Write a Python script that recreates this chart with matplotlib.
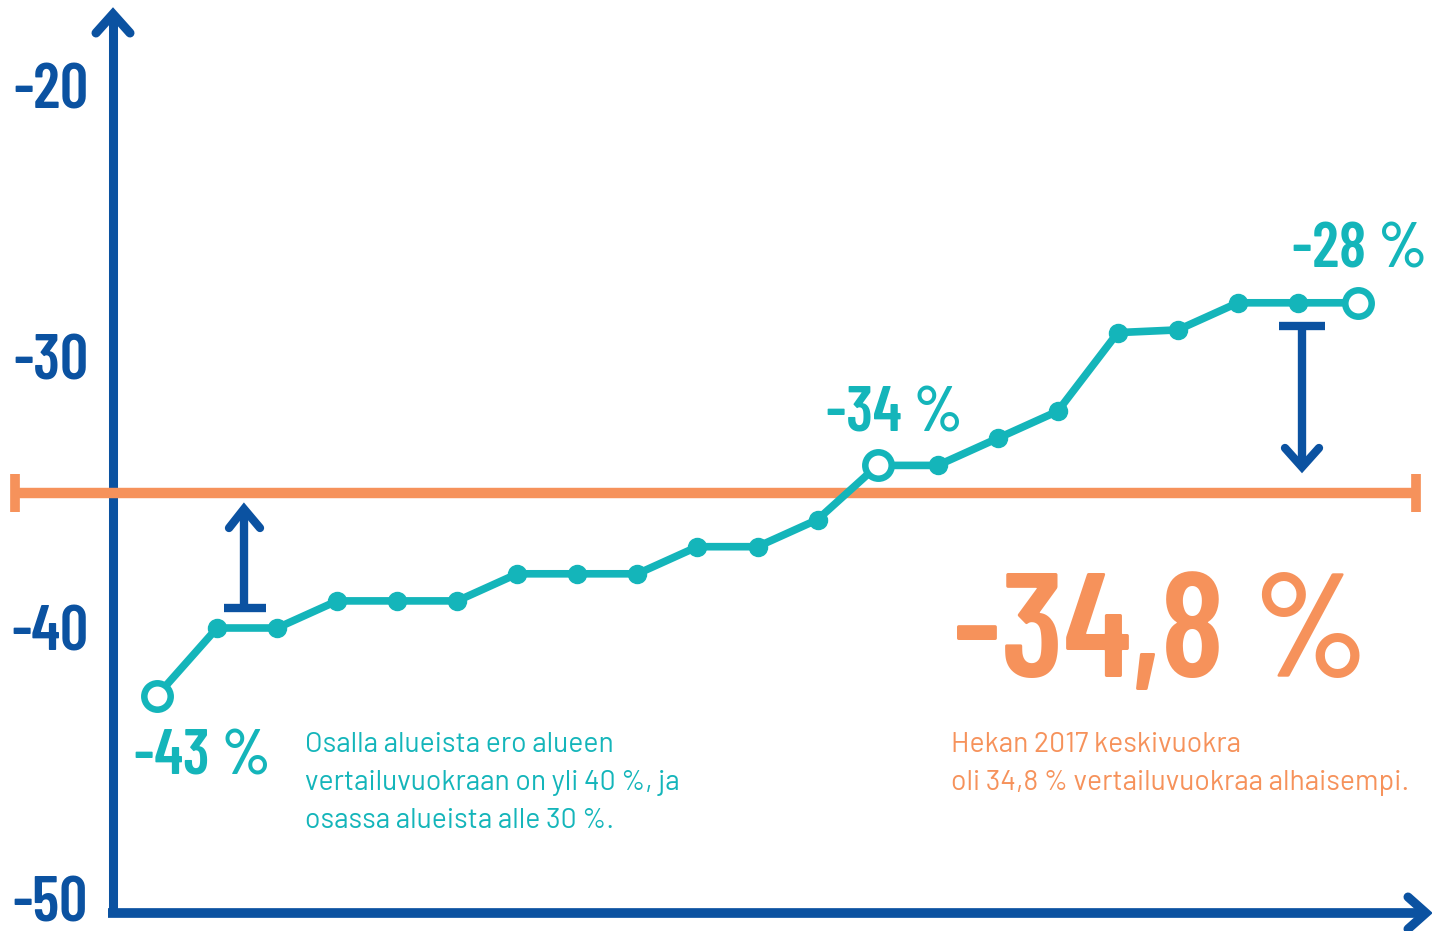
import matplotlib
matplotlib.use("Agg")
import matplotlib.pyplot as plt

# ---------------- data ----------------
positions = list(range(1, 22))
values = [-42.5, -40, -40, -39, -39, -39, -38, -38, -38, -37, -37, -36,
          -34, -34, -33, -32, -29.1, -29, -28, -28, -28]
reference_value = -35.0
reference_label = "-34,8 %"
y_ticks = [-20, -30, -40, -50]
y_tick_labels = ["-20", "-30", "-40", "-50"]
callout_idx = [1, 13, 21]
callout_labels = ["-43 %", "-34 %", "-28 %"]
left_note = ["Osalla alueista ero alueen",
             "vertailuvuokraan on yli 40 %, ja",
             "osassa alueista alle 30 %."]
right_note = ["Hekan 2017 keskivuokra",
              "oli 34,8 % vertailuvuokraa alhaisempi."]

# ---------------- style ----------------
TEAL = "#14b5ba"
BLUE = "#0b52a1"
ORANGE = "#f6925b"
BOLD_FONT = ["Barlow Condensed", "Roboto Condensed", "DejaVu Sans"]
REG_FONT = ["Barlow", "Roboto", "DejaVu Sans"]

W, H = 1432, 931
fig = plt.figure(figsize=(W / 100, H / 100), dpi=100)
ax = fig.add_axes([0, 0, 1, 1])

X0_PX, DX_PX = 157.0, 60.05
Y0_PX, DY_PX = 86.0, 27.1


def X(px):
    return 1 + (px - X0_PX) / DX_PX


def Y(py):
    return -20 - (py - Y0_PX) / DY_PX


ax.set_xlim(X(0), X(W))
ax.set_ylim(Y(H), Y(0))
ax.axis("off")

# axes with arrows
ax.plot([X(113), X(113)], [Y(913), Y(16)], color=BLUE, lw=6.5,
        solid_capstyle="butt", zorder=2)
ax.plot([X(96), X(113), X(130)], [Y(33), Y(14), Y(33)], color=BLUE, lw=6.5,
        solid_capstyle="round", solid_joinstyle="miter", zorder=2)
ax.plot([X(108), X(1424)], [Y(913), Y(913)], color=BLUE, lw=7,
        solid_capstyle="butt", zorder=2)
ax.plot([X(1408), X(1426), X(1408)], [Y(897), Y(913), Y(929)], color=BLUE, lw=6.5,
        solid_capstyle="round", solid_joinstyle="miter", zorder=2)

# y tick labels (baseline half a cap-height below the tick value)
cap_half = 22.5 / DY_PX
for v, lab in zip(y_ticks, y_tick_labels):
    ax.text(X(88), v - cap_half, lab, ha="right", va="baseline", color=BLUE,
            fontsize=45, fontweight=600, family=BOLD_FONT)

# reference line
ax.plot([X(15), X(1416)], [reference_value, reference_value], color=ORANGE,
        lw=7.5, solid_capstyle="butt", zorder=2)
ax.plot([X(15), X(1416)], [reference_value, reference_value], ls="none",
        marker="|", ms=27, mew=7, color=ORANGE, zorder=2)

# series
ax.plot(positions, values, color=TEAL, lw=5.5, zorder=3)
ax.plot(positions, values, ls="none", marker="o", ms=13, color=TEAL, zorder=4)
cx = [positions[i - 1] for i in callout_idx]
cy = [values[i - 1] for i in callout_idx]
ax.plot(cx, cy, ls="none", marker="o", ms=19, mfc="white", mec=TEAL, mew=4.7, zorder=5)

# callout labels: (dx px, dy px below point, alignment)
offsets = [(45.5, 79, "center"), (16.5, -34, "center"), (69, -35, "right")]
for x, y, lab, (dxp, dyp, ha) in zip(cx, cy, callout_labels, offsets):
    ax.text(x + dxp / DX_PX, y - dyp / DY_PX, lab, ha=ha, va="baseline",
            color=TEAL, fontsize=45, fontweight=600, family=BOLD_FONT)

# blue difference arrows
ax.plot([X(244), X(244)], [Y(608), Y(510)], color=BLUE, lw=6, solid_capstyle="butt", zorder=3)
ax.plot([X(229), X(244), X(260)], [Y(528), Y(509), Y(528)], color=BLUE, lw=6,
        solid_capstyle="round", solid_joinstyle="miter", zorder=3)
ax.plot([X(224), X(266)], [Y(608), Y(608)], color=BLUE, lw=6, solid_capstyle="butt", zorder=3)
ax.plot([X(1302), X(1302)], [Y(326), Y(466)], color=BLUE, lw=6, solid_capstyle="butt", zorder=3)
ax.plot([X(1285), X(1302), X(1319)], [Y(448), Y(467), Y(448)], color=BLUE, lw=6,
        solid_capstyle="round", solid_joinstyle="miter", zorder=3)
ax.plot([X(1279), X(1325)], [Y(326), Y(326)], color=BLUE, lw=6, solid_capstyle="butt", zorder=3)

# big reference label
ax.text(X(953), Y(677), reference_label, ha="left", va="baseline", color=ORANGE,
        fontsize=106, fontweight=600, family=BOLD_FONT)

# notes
for k, line in enumerate(left_note):
    ax.text(X(305), Y(752 + 38 * k), line, ha="left", va="baseline", color=TEAL,
            fontsize=20.4, family=REG_FONT)
for k, line in enumerate(right_note):
    ax.text(X(951), Y(752 + 38 * k), line, ha="left", va="baseline", color=ORANGE,
            fontsize=20.4, family=REG_FONT)

fig.savefig("out.png", dpi=100)
